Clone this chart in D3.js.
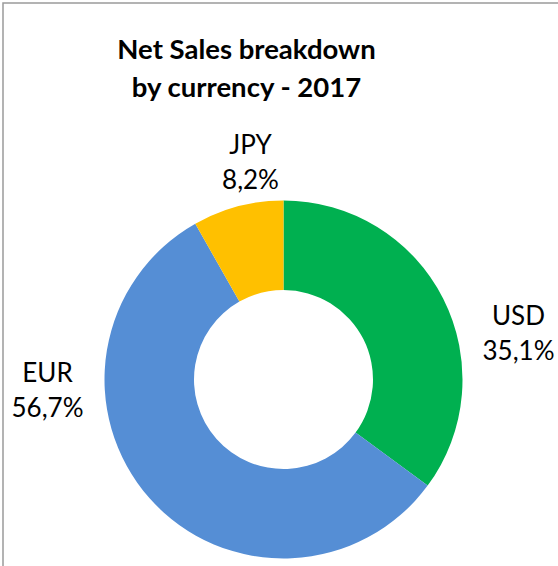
<!DOCTYPE html>
<html>
<head>
<meta charset="utf-8">
<script src="https://cdn.jsdelivr.net/npm/d3@7"></script>
<style>
  html, body { margin: 0; padding: 0; background: #fff; overflow: hidden; }
  svg { display: block; }
</style>
</head>
<body>
<svg id="chart" width="558" height="566"></svg>
<script>
// Net sales split by currency, 2017 (percent of total)
const currencies = ["USD", "EUR", "JPY"];
const shares = [35.1, 56.7, 8.2];
const sliceColors = ["#00B050", "#558ED5", "#FFC000"];
const titleLines = ["Net Sales breakdown", "by currency - 2017"];

const width = 558, height = 566;
const cx = 283.5, cy = 379.5;
const outerR = 179, innerR = 89.5;

// Label centres (relative to the donut centre) for the outside labels
const labelPlacement = {
  USD: [235, -54],
  EUR: [-236, 3],
  JPY: [-33, -225]
};

const fontFamily = "Lato, 'Open Sans', 'DejaVu Sans', sans-serif";

const svg = d3.select("#chart");

// chart-area frame
svg.append("rect")
  .attr("x", 3).attr("y", 3)
  .attr("width", 620).attr("height", 620)
  .attr("fill", "#fff")
  .attr("stroke", "#9a9a9a")
  .attr("stroke-width", 1.5);

// title
const title = svg.append("text")
  .attr("x", 246.5)
  .attr("y", 59)
  .attr("text-anchor", "middle")
  .attr("font-family", fontFamily)
  .attr("font-weight", "bold")
  .attr("font-size", 27.5)
  .attr("fill", "#000");
titleLines.forEach((line, i) => {
  title.append("tspan")
    .attr("x", 246.5)
    .attr("dy", i === 0 ? 0 : 38)
    .text(line);
});

const rows = currencies.map((c, i) => ({ currency: c, share: shares[i], color: sliceColors[i] }));

const pie = d3.pie()
  .sort(null)
  .value(d => d.share)
  .startAngle(0)
  .endAngle(2 * Math.PI);

const arc = d3.arc()
  .innerRadius(innerR)
  .outerRadius(outerR);

const g = svg.append("g").attr("transform", `translate(${cx},${cy})`);

g.selectAll("path.slice")
  .data(pie(rows))
  .join("path")
  .attr("class", "slice")
  .attr("d", arc)
  .attr("fill", d => d.data.color);

// number formatting with decimal comma
const locale = d3.formatLocale({ decimal: ",", thousands: ".", grouping: [3], currency: ["", " €"] });
const pct = locale.format(".1f");

const labels = g.selectAll("text.lbl")
  .data(pie(rows))
  .join("text")
  .attr("class", "lbl")
  .attr("text-anchor", "middle")
  .attr("font-family", fontFamily)
  .attr("font-size", 26)
  .attr("fill", "#000")
  .attr("transform", d => {
    const p = labelPlacement[d.data.currency];
    return `translate(${p[0]},${p[1]})`;
  });

labels.append("tspan")
  .attr("x", 0)
  .attr("dy", -1)
  .text(d => d.data.currency);
labels.append("tspan")
  .attr("x", 0)
  .attr("dy", 35)
  .text(d => pct(d.data.share) + "%");
</script>
</body>
</html>
